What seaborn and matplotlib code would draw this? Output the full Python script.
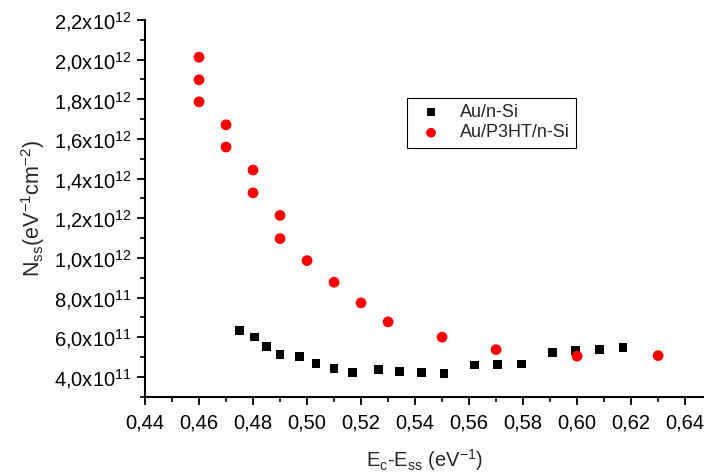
import numpy as np
import pandas as pd
import seaborn as sns
from matplotlib import pyplot as plt
from matplotlib.ticker import MultipleLocator, FuncFormatter

# Au/n-Si (black squares)
x_ausi = [0.475, 0.4805, 0.485, 0.490, 0.4973, 0.5033, 0.510, 0.5168, 0.5264,
          0.5343, 0.5423, 0.5507, 0.562, 0.5706, 0.5793, 0.5909, 0.5995, 0.6083, 0.617]
y_ausi = [0.635, 0.601, 0.554, 0.512, 0.501, 0.468, 0.443, 0.422, 0.438,
          0.428, 0.420, 0.417, 0.460, 0.462, 0.465, 0.522, 0.532, 0.539, 0.549]

# Au/P3HT/n-Si (red circles)
x_p3ht = [0.46, 0.46, 0.46, 0.47, 0.47, 0.48, 0.48, 0.49, 0.49, 0.50,
          0.51, 0.52, 0.53, 0.55, 0.57, 0.60, 0.63]
y_p3ht = [2.012, 1.898, 1.787, 1.671, 1.559, 1.443, 1.328, 1.214, 1.097, 0.986,
          0.877, 0.773, 0.677, 0.600, 0.537, 0.504, 0.507]

df_ausi = pd.DataFrame({"E": x_ausi, "N": np.array(y_ausi) * 1e12})
df_p3ht = pd.DataFrame({"E": x_p3ht, "N": np.array(y_p3ht) * 1e12})

sns.set_style("ticks")
plt.rcParams["font.family"] = ["Liberation Sans", "DejaVu Sans"]
plt.rcParams["mathtext.fontset"] = "custom"
plt.rcParams["mathtext.rm"] = "Liberation Sans"
plt.rcParams["mathtext.it"] = "Liberation Sans:italic"
plt.rcParams["mathtext.bf"] = "Liberation Sans:bold"
plt.rcParams["mathtext.default"] = "regular"

fig = plt.figure(figsize=(7.04, 4.75), dpi=100)
ax = fig.add_axes([0.206, 0.165, 0.794, 0.793])

sns.scatterplot(data=df_ausi, x="E", y="N", marker="s", color="black",
                s=40, edgecolor="none", label="Au/n-Si", ax=ax)
sns.scatterplot(data=df_p3ht, x="E", y="N", marker="o", color="#ff0000",
                s=60, edgecolor="none", label="Au/P3HT/n-Si", ax=ax)

ax.set_xlim(0.44, 0.647)
ax.set_ylim(3e11, 2.2e12)
ax.xaxis.set_major_locator(MultipleLocator(0.02))
ax.xaxis.set_minor_locator(MultipleLocator(0.01))
ax.yaxis.set_major_locator(MultipleLocator(2e11))
ax.yaxis.set_minor_locator(MultipleLocator(1e11))

ax.xaxis.set_major_formatter(FuncFormatter(lambda v, p: f"{v:.2f}".replace(".", ",")))


def sci_fmt(v, p):
    if v <= 0:
        return ""
    e = int(np.floor(np.log10(v) + 1e-9))
    m = v / 10 ** e
    return f"{m:.1f}".replace(".", ",") + "x10$^{" + str(e) + "}$"


ax.yaxis.set_major_formatter(FuncFormatter(sci_fmt))

ax.tick_params(axis="both", which="major", direction="out", length=6, width=1.3,
               labelsize=14.5, color="black", labelcolor="black")
ax.tick_params(axis="both", which="minor", direction="out", length=3.5, width=1.2,
               color="black")
ax.tick_params(axis="x", pad=6)
for side in ["top", "right"]:
    ax.spines[side].set_visible(False)
for side in ["left", "bottom"]:
    ax.spines[side].set_linewidth(1.5)
    ax.spines[side].set_color("black")

ax.set_xlabel("E$_{c}$-E$_{ss}$ (eV$^{-1}$)", fontsize=14.5, labelpad=11)
ax.set_ylabel("N$_{ss}$(eV$^{-1}$cm$^{-2}$)", fontsize=15.5, labelpad=5)

leg = ax.legend(loc="upper left", bbox_to_anchor=(0.468, 0.794), borderaxespad=0,
                fontsize=13, frameon=True, fancybox=False, edgecolor="black",
                framealpha=1, labelspacing=0.2, handletextpad=0.6,
                borderpad=0.35, markerscale=0.9)
leg.get_frame().set_linewidth(0.8)

fig.savefig("out.png", dpi=100)
